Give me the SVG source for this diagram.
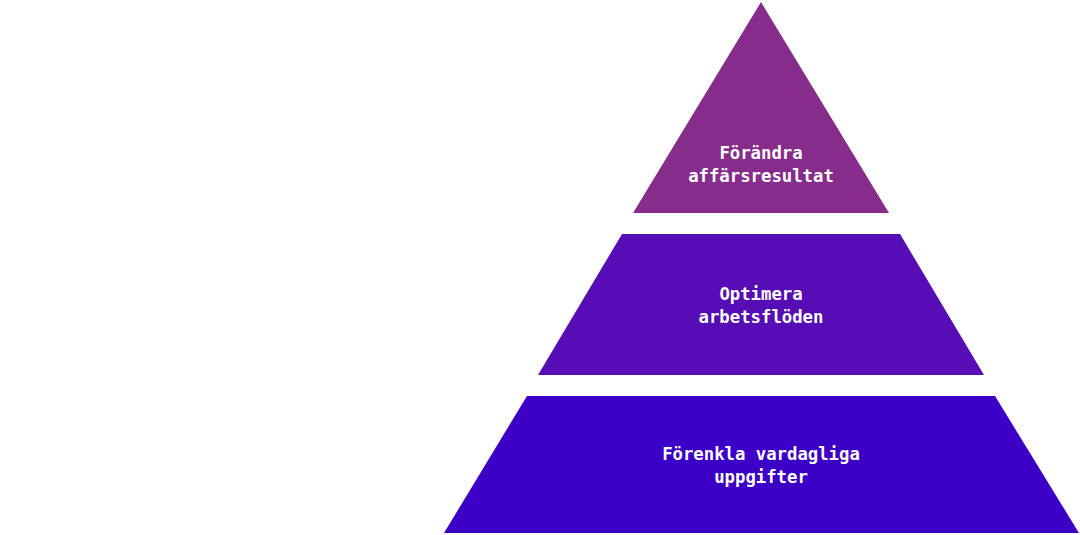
<svg xmlns="http://www.w3.org/2000/svg" width="1080" height="535" viewBox="0 0 1080 535">
<style>
.lbl{font-family:"DejaVu Sans Mono","Liberation Mono",monospace;font-weight:bold;font-size:17.3px;fill:#ffffff;text-anchor:middle}
</style>
<rect width="1080" height="535" fill="#ffffff"/>
<g id="top">
<polygon points="761,2 889,213 633,213" fill="#862C8A"/>
<text class="lbl" x="761" y="159">Förändra</text>
<text class="lbl" x="761" y="182">affärsresultat</text>
</g>
<g id="middle">
<polygon points="622,234 900,234 984,375 538,375" fill="#560DB5"/>
<text class="lbl" x="761" y="300">Optimera</text>
<text class="lbl" x="761" y="323">arbetsflöden</text>
</g>
<g id="bottom">
<polygon points="527,396 995,396 1079,533 444,533" fill="#3D00C6"/>
<text class="lbl" x="761" y="460">Förenkla vardagliga</text>
<text class="lbl" x="761" y="483">uppgifter</text>
</g>
<g id="connectors"/>
</svg>
